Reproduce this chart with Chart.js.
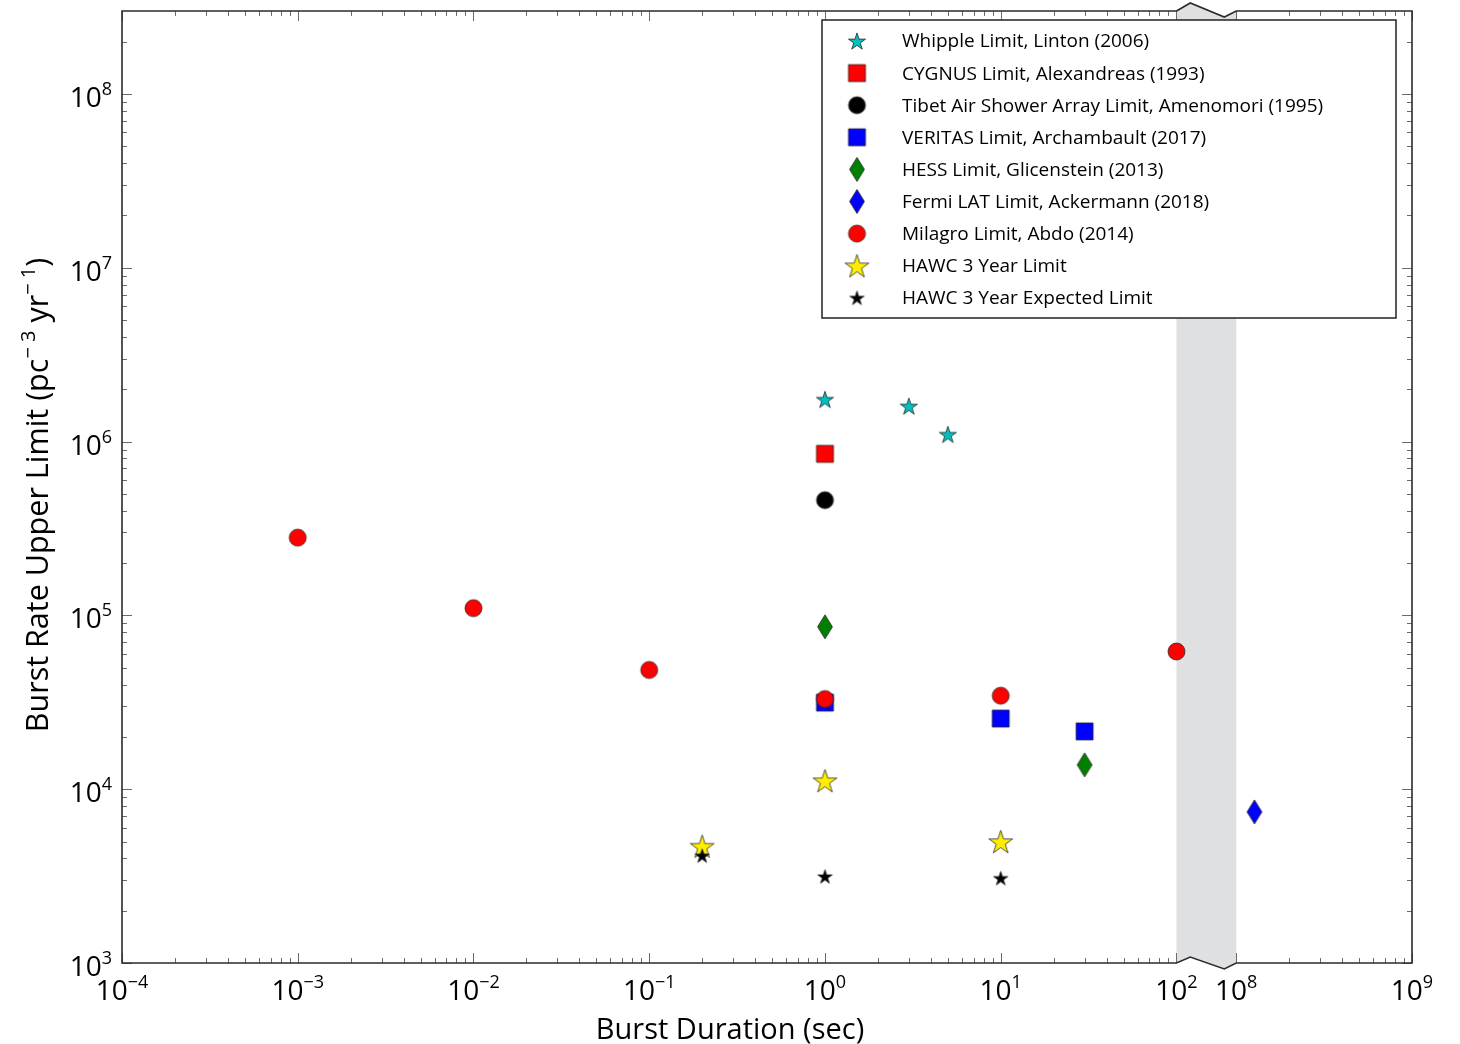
<!DOCTYPE html>
<html>
<head>
<meta charset="utf-8">
<script src="https://cdn.jsdelivr.net/npm/chart.js@4.4.1/dist/chart.umd.min.js"></script>
<style>
  html, body { margin: 0; padding: 0; background: #fff; }
  #wrap { width: 1460px; height: 1044px; }
</style>
</head>
<body>
<div id="wrap"><canvas id="burstChart" width="1460" height="1044"></canvas></div>
<script>
// burst duration (sec) vs burst rate upper limit (pc^-3 yr^-1)
const whippleDur = [1, 3, 5];
const whippleRate = [1.75e6, 1.6e6, 1.1e6];
const cygnusDur = [1];
const cygnusRate = [8.5e5];
const tibetDur = [1];
const tibetRate = [4.6e5];
const veritasDur = [1, 10, 30];
const veritasRate = [3.15e4, 2.55e4, 2.15e4];
const hessDur = [1, 30];
const hessRate = [8.6e4, 1.38e4];
const fermiDur = [1.27e8];
const fermiRate = [7.4e3];
const milagroDur = [1e-3, 1e-2, 1e-1, 1, 10, 100];
const milagroRate = [2.8e5, 1.1e5, 4.85e4, 3.3e4, 3.45e4, 6.2e4];
const hawcDur = [0.2, 1, 10];
const hawcRate = [4.7e3, 1.12e4, 5.0e3];
const hawcExpDur = [0.2, 1, 10];
const hawcExpRate = [4.15e3, 3.15e3, 3.08e3];

const seriesLabels = [
  'Whipple Limit, Linton (2006)',
  'CYGNUS Limit, Alexandreas (1993)',
  'Tibet Air Shower Array Limit, Amenomori (1995)',
  'VERITAS Limit, Archambault (2017)',
  'HESS Limit, Glicenstein (2013)',
  'Fermi LAT Limit, Ackermann (2018)',
  'Milagro Limit, Abdo (2014)',
  'HAWC 3 Year Limit',
  'HAWC 3 Year Expected Limit'
];

const xTickExps = [-4, -3, -2, -1, 0, 1, 2, 8, 9];
const yTickExps = [3, 4, 5, 6, 7, 8];

const FONT = '"Open Sans", "DejaVu Sans", sans-serif';
const GAP = 0.34; // width of the 10^2 .. 10^8 break, in decades

// log position on the broken x axis
function axisPos(d) {
  const l = Math.log10(d);
  return l <= 2 ? l : l - 6 + GAP;
}

function marker(shape, size, fill) {
  const s = Math.ceil(size + 4);
  const c = document.createElement('canvas');
  c.width = s; c.height = s;
  const g = c.getContext('2d');
  const cx = s / 2, cy = s / 2, r = size / 2;
  g.beginPath();
  if (shape === 'star') {
    for (let i = 0; i < 10; i++) {
      const rr = i % 2 ? r * 0.382 : r;
      const a = -Math.PI / 2 + i * Math.PI / 5;
      g.lineTo(cx + rr * Math.cos(a), cy + rr * Math.sin(a) + r * 0.1);
    }
    g.closePath();
  } else if (shape === 'square') {
    g.rect(cx - r, cy - r, size, size);
  } else if (shape === 'circle') {
    g.arc(cx, cy, r, 0, Math.PI * 2);
  } else if (shape === 'diamond') {
    const w = r * 0.62;
    g.moveTo(cx, cy - r); g.lineTo(cx + w, cy); g.lineTo(cx, cy + r); g.lineTo(cx - w, cy);
    g.closePath();
  }
  g.fillStyle = fill;
  g.fill();
  g.lineWidth = 0.8;
  g.strokeStyle = '#2a2a2a';
  g.stroke();
  return c;
}

const markers = [
  marker('star', 18, '#00bfbf'),
  marker('square', 17, '#ff0000'),
  marker('circle', 17, '#000000'),
  marker('square', 17, '#0000ff'),
  marker('diamond', 24, '#008000'),
  marker('diamond', 24, '#0000ff'),
  marker('circle', 17, '#ff0000'),
  marker('star', 25, '#ffee00'),
  marker('star', 15, '#000000')
];

const durs = [whippleDur, cygnusDur, tibetDur, veritasDur, hessDur, fermiDur, milagroDur, hawcDur, hawcExpDur];
const rates = [whippleRate, cygnusRate, tibetRate, veritasRate, hessRate, fermiRate, milagroRate, hawcRate, hawcExpRate];

const datasets = seriesLabels.map((label, i) => ({
  label: label,
  data: durs[i].map((d, j) => ({ x: axisPos(d), y: rates[i][j] })),
  pointStyle: markers[i],
  pointRadius: 10,
  showLine: false,
  order: seriesLabels.length - i
}));

function richText(ctx, parts, x, y, align) {
  let w = 0;
  parts.forEach(p => { ctx.font = p[1] + 'px ' + FONT; w += ctx.measureText(p[0]).width; });
  let cx = align === 'center' ? x - w / 2 : align === 'right' ? x - w : x;
  ctx.textAlign = 'left';
  ctx.textBaseline = 'alphabetic';
  parts.forEach(p => {
    ctx.font = p[1] + 'px ' + FONT;
    ctx.fillText(p[0], cx, y - (p[2] || 0));
    cx += ctx.measureText(p[0]).width;
  });
}

function expLabel(e) {
  return [['10', 28, 0], [String(e).replace('-', '\u2212'), 18, 12]];
}

const brokenAxis = {
  id: 'brokenAxis',
  beforeDatasetsDraw(chart) {
    const ctx = chart.ctx, xs = chart.scales.x, a = chart.chartArea;
    const xa = xs.getPixelForValue(2), xb = xs.getPixelForValue(2 + GAP), w = xb - xa;
    ctx.save();
    ctx.fillStyle = '#dfe0e2';
    ctx.beginPath();
    ctx.moveTo(xa, a.top); ctx.lineTo(xa + 0.23 * w, a.top - 8); ctx.lineTo(xa + 0.8 * w, a.top + 6); ctx.lineTo(xb, a.top);
    ctx.lineTo(xb, a.bottom); ctx.lineTo(xa + 0.8 * w, a.bottom + 6); ctx.lineTo(xa + 0.23 * w, a.bottom - 6); ctx.lineTo(xa, a.bottom);
    ctx.closePath();
    ctx.fill();
    ctx.restore();
  },
  afterDatasetsDraw(chart) {
    const ctx = chart.ctx, xs = chart.scales.x, ys = chart.scales.y, a = chart.chartArea;
    const L = a.left, R = a.right, T = a.top, B = a.bottom;
    const xa = xs.getPixelForValue(2), xb = xs.getPixelForValue(2 + GAP), w = xb - xa;
    ctx.save();

    // ticks, pointing inward on all four sides
    ctx.strokeStyle = '#6a6a6a';
    ctx.lineWidth = 1;
    ctx.beginPath();
    const xTick = (v, len) => {
      const px = Math.round(xs.getPixelForValue(v)) + 0.5;
      ctx.moveTo(px, B); ctx.lineTo(px, B - len);
      ctx.moveTo(px, T); ctx.lineTo(px, T + len);
    };
    for (let k = -4; k <= 2; k++) {
      xTick(k, 10);
      if (k < 2) for (let m = 2; m <= 9; m++) xTick(k + Math.log10(m), 5);
    }
    xTick(2 + GAP, 10); xTick(3 + GAP, 10);
    for (let m = 2; m <= 9; m++) xTick(2 + GAP + Math.log10(m), 5);
    const yTick = (v, len) => {
      const py = Math.round(ys.getPixelForValue(v)) + 0.5;
      ctx.moveTo(L, py); ctx.lineTo(L + len, py);
      ctx.moveTo(R, py); ctx.lineTo(R - len, py);
    };
    for (let k = 3; k <= 8; k++) {
      yTick(Math.pow(10, k), 10);
      for (let m = 2; m <= 9; m++) {
        const v = m * Math.pow(10, k);
        if (v < ys.max) yTick(v, 5);
      }
    }
    ctx.stroke();

    // frame with break marks
    ctx.strokeStyle = '#2b2b2b';
    ctx.lineWidth = 1.6;
    ctx.beginPath();
    ctx.moveTo(xa, T); ctx.lineTo(L, T); ctx.lineTo(L, B); ctx.lineTo(xa, B);
    ctx.lineTo(xa + 0.23 * w, B - 6); ctx.lineTo(xa + 0.8 * w, B + 6); ctx.lineTo(xb, B);
    ctx.lineTo(R, B); ctx.lineTo(R, T); ctx.lineTo(xb, T);
    ctx.lineTo(xa + 0.8 * w, T + 6); ctx.lineTo(xa + 0.23 * w, T - 8); ctx.lineTo(xa, T);
    ctx.stroke();

    // tick labels
    ctx.fillStyle = '#000';
    xTickExps.forEach(e => {
      const v = e <= 2 ? e : e - 6 + GAP;
      richText(ctx, expLabel(e), xs.getPixelForValue(v), B + 37, 'center');
    });
    yTickExps.forEach(e => {
      richText(ctx, expLabel(e), L - 10, ys.getPixelForValue(Math.pow(10, e)) + 13, 'right');
    });

    // axis titles
    richText(ctx, [['Burst Duration (sec)', 29, 0]], 730, 1039, 'center');
    ctx.save();
    ctx.translate(48, 495);
    ctx.rotate(-Math.PI / 2);
    richText(ctx, [['Burst Rate Upper Limit (pc', 30.5, 0], ['\u2212 3', 20, 13], [' yr', 30.5, 0], ['\u2212 1', 20, 13], [')', 30.5, 0]], 0, 0, 'center');
    ctx.restore();
    ctx.restore();
  },
  afterDraw(chart) {
    // legend box in the upper right of the plot
    const ctx = chart.ctx;
    const bx = 822, by = 20, bw = 574, bh = 298;
    ctx.save();
    ctx.fillStyle = '#fff';
    ctx.fillRect(bx, by, bw, bh);
    ctx.strokeStyle = '#222';
    ctx.lineWidth = 1.5;
    ctx.strokeRect(bx, by, bw, bh);
    ctx.fillStyle = '#000';
    ctx.font = '19px ' + FONT;
    ctx.textBaseline = 'middle';
    ctx.textAlign = 'left';
    chart.data.datasets.forEach((ds, i) => {
      const ry = by + 21 + i * 32.1;
      const img = ds.pointStyle;
      ctx.drawImage(img, 857 - img.width / 2, ry - img.height / 2);
      ctx.fillText(ds.label, 902, ry + 1);
    });
    ctx.restore();
  }
};

new Chart(document.getElementById('burstChart').getContext('2d'), {
  type: 'scatter',
  data: { datasets: datasets },
  options: {
    responsive: false,
    animation: false,
    events: [],
    layout: { padding: { top: 8, right: 48, left: 0, bottom: 0 } },
    plugins: { legend: { display: false }, tooltip: { enabled: false } },
    scales: {
      x: {
        type: 'linear',
        min: -4,
        max: 3 + GAP,
        grid: { display: false },
        border: { display: false },
        ticks: { display: false },
        afterFit: s => { s.height = 81; s.paddingLeft = 0; s.paddingRight = 0; }
      },
      y: {
        type: 'logarithmic',
        min: 1e3,
        max: 3e8,
        grid: { display: false },
        border: { display: false },
        ticks: { display: false },
        afterFit: s => { s.width = 122; s.paddingTop = 0; s.paddingBottom = 0; }
      }
    }
  },
  plugins: [brokenAxis]
});
</script>
</body>
</html>
